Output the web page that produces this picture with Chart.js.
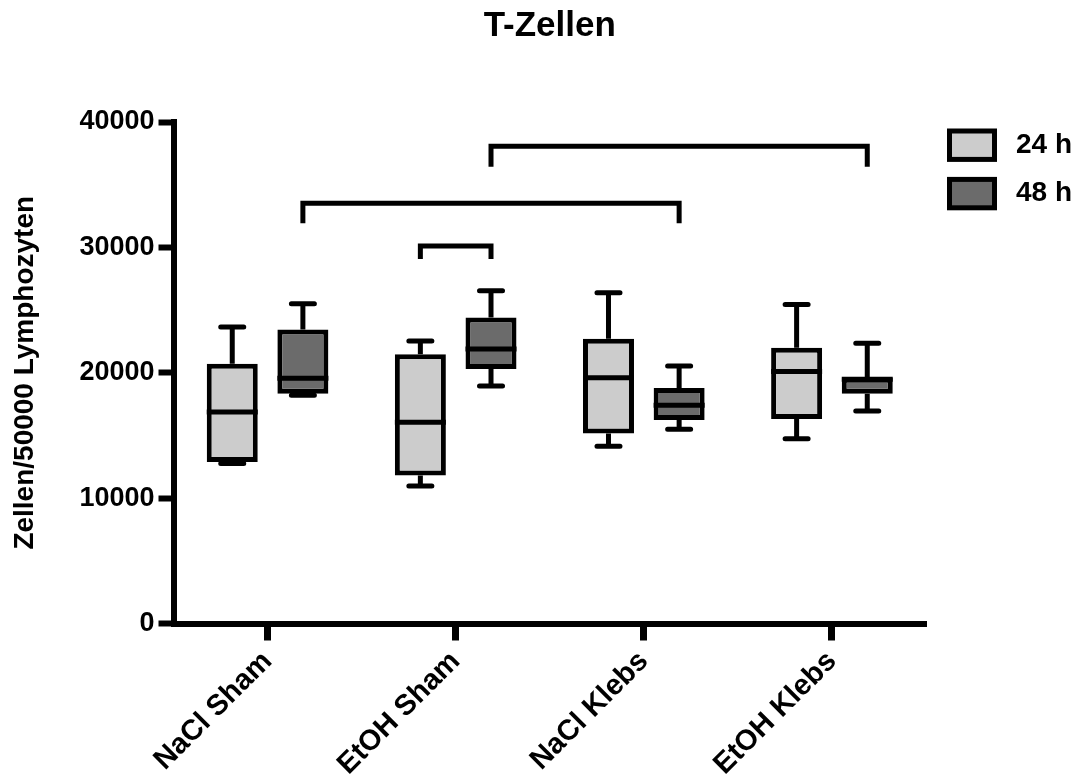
<!DOCTYPE html>
<html>
<head>
<meta charset="utf-8">
<script src="https://cdn.jsdelivr.net/npm/chart.js@4.4.1/dist/chart.umd.min.js"></script>
<style>
  html, body { margin: 0; padding: 0; background: #fff; }
  #wrap { width: 1074px; height: 778px; }
</style>
</head>
<body>
<div id="wrap"><canvas id="tzellenChart" width="1074" height="778"></canvas></div>
<script>
// Groups on the x axis
const groups = ["NaCl Sham", "EtOH Sham", "NaCl Klebs", "EtOH Klebs"];
const seriesLabels = ["24 h", "48 h"];
const yTickLabels = ["0", "10000", "20000", "30000", "40000"];

// 24 h box plots (min, Q1, median, Q3, max)
const min24 = [12760, 10970, 14130, 14730];
const q1_24 = [12890, 11800, 15150, 16320];
const med24 = [16870, 16050, 19610, 20100];
const q3_24 = [20710, 21470, 22710, 22000];
const max24 = [23640, 22540, 26390, 25450];

// 48 h box plots
const min48 = [18210, 18950, 15500, 16950];
const q1_48 = [18320, 20300, 16230, 18320];
const med48 = [19560, 21890, 17410, 19480];
const q3_48 = [23450, 24410, 18790, 19610];
const max48 = [25500, 26550, 20540, 22350];

// Significance brackets: [series, group] -> [series, group], bar height, end height
const bracketFrom = [[1, 0], [1, 1], [0, 1]];
const bracketTo = [[1, 2], [1, 3], [1, 1]];
const bracketTop = [33510, 38060, 30110];
const bracketEnd = [31930, 36430, 29070];

const whiskers = [
    { min: min24, med: med24, max: max24, q1: q1_24, q3: q3_24 },
    { min: min48, med: med48, max: max48, q1: q1_48, q3: q3_48 },
];

Chart.defaults.font.family = "'Liberation Sans', Arial, sans-serif";
Chart.defaults.font.weight = "bold";
Chart.defaults.color = "#000";

// Whiskers, medians and brackets on top of the floating bars
const boxPlotPlugin = {
    id: "boxPlot",
    afterDatasetsDraw(chart) {
        const { ctx, scales } = chart;
        const y = scales.y;
        ctx.save();
        ctx.strokeStyle = "#000";
        whiskers.forEach((w, d) => {
            const meta = chart.getDatasetMeta(d);
            meta.data.forEach((bar, i) => {
                const x = bar.x;
                const half = bar.width / 2;
                ctx.lineWidth = 5;
                ctx.lineCap = "butt";
                ctx.beginPath();
                ctx.moveTo(x, y.getPixelForValue(w.q3[i]));
                ctx.lineTo(x, y.getPixelForValue(w.max[i]));
                ctx.moveTo(x, y.getPixelForValue(w.q1[i]));
                ctx.lineTo(x, y.getPixelForValue(w.min[i]));
                ctx.stroke();
                // median
                ctx.beginPath();
                ctx.moveTo(x - half, y.getPixelForValue(w.med[i]));
                ctx.lineTo(x + half, y.getPixelForValue(w.med[i]));
                ctx.stroke();
                // caps
                ctx.lineCap = "round";
                ctx.beginPath();
                ctx.moveTo(x - 11.5, y.getPixelForValue(w.max[i]));
                ctx.lineTo(x + 11.5, y.getPixelForValue(w.max[i]));
                ctx.moveTo(x - 11.5, y.getPixelForValue(w.min[i]));
                ctx.lineTo(x + 11.5, y.getPixelForValue(w.min[i]));
                ctx.stroke();
            });
        });

        // brackets
        ctx.lineWidth = 5;
        ctx.lineCap = "butt";
        ctx.lineJoin = "miter";
        bracketFrom.forEach((from, k) => {
            const to = bracketTo[k];
            const x1 = chart.getDatasetMeta(from[0]).data[from[1]].x;
            const x2 = chart.getDatasetMeta(to[0]).data[to[1]].x;
            const top = y.getPixelForValue(bracketTop[k]);
            const end = y.getPixelForValue(bracketEnd[k]);
            ctx.beginPath();
            ctx.moveTo(x1, end);
            ctx.lineTo(x1, top);
            ctx.lineTo(x2, top);
            ctx.lineTo(x2, end);
            ctx.stroke();
        });
        ctx.restore();
    },
    afterDraw(chart) {
        // legend to the right of the plot
        const { ctx, chartArea } = chart;
        ctx.save();
        chart.data.datasets.forEach((ds, i) => {
            const bx = chartArea.right + 21;
            const by = chartArea.top + 6.5 + i * 48.4;
            ctx.fillStyle = "#000";
            ctx.fillRect(bx, by, 50, 33.4);
            ctx.fillStyle = ds.backgroundColor;
            ctx.fillRect(bx + 5, by + 5, 40, 23.4);
            ctx.fillStyle = "#000";
            ctx.font = "bold 28px 'Liberation Sans', Arial, sans-serif";
            ctx.textBaseline = "middle";
            ctx.textAlign = "left";
            ctx.fillText(ds.label, bx + 69, by + 16.7);
        });
        ctx.restore();
    },
};

const data = {
    labels: groups,
    datasets: [
        {
            label: seriesLabels[0],
            data: q1_24.map((q1, i) => [q1, q3_24[i]]),
            backgroundColor: "#cccccc",
            borderColor: "#000",
            borderWidth: 5,
            borderSkipped: false,
            categoryPercentage: 0.751,
            barPercentage: 0.722,
        },
        {
            label: seriesLabels[1],
            data: q1_48.map((q1, i) => [q1, q3_48[i]]),
            backgroundColor: "#6b6b6b",
            borderColor: "#000",
            borderWidth: 5,
            borderSkipped: false,
            categoryPercentage: 0.751,
            barPercentage: 0.722,
        },
    ],
};

new Chart(document.getElementById("tzellenChart"), {
    type: "bar",
    data,
    options: {
        responsive: false,
        animation: false,
        layout: { padding: { top: 0, right: 148, bottom: 0, left: 0 } },
        plugins: {
            legend: { display: false },
            tooltip: { enabled: false },
            title: {
                display: true,
                text: "T-Zellen",
                fullSize: false,
                color: "#000",
                font: { size: 35, weight: "bold" },
                padding: { top: 5, bottom: 75 },
            },
        },
        scales: {
            x: {
                afterFit: (scale) => { scale.height = 154.5; },
                grid: {
                    offset: false,
                    drawOnChartArea: false,
                    tickLength: 17,
                    tickWidth: 7,
                    tickColor: "#000",
                },
                border: { display: true, color: "#000", width: 6 },
                ticks: {
                    minRotation: 45,
                    maxRotation: 45,
                    padding: 4,
                    color: "#000",
                    font: { size: 29, weight: "bold" },
                },
            },
            y: {
                min: 0,
                max: 40000,
                afterFit: (scale) => { scale.width = 173.5; },
                grid: {
                    drawOnChartArea: false,
                    tickLength: 15,
                    tickWidth: 6,
                    tickColor: "#000",
                },
                border: { display: true, color: "#000", width: 6 },
                ticks: {
                    stepSize: 10000,
                    padding: 4,
                    color: "#000",
                    font: { size: 27, weight: "bold" },
                    callback: (value, index) => yTickLabels[index],
                },
                title: {
                    display: true,
                    text: "Zellen/50000 Lymphozyten",
                    color: "#000",
                    font: { size: 28, weight: "bold" },
                    padding: { top: 8, bottom: 0 },
                },
            },
        },
    },
    plugins: [boxPlotPlugin],
});
</script>
</body>
</html>
